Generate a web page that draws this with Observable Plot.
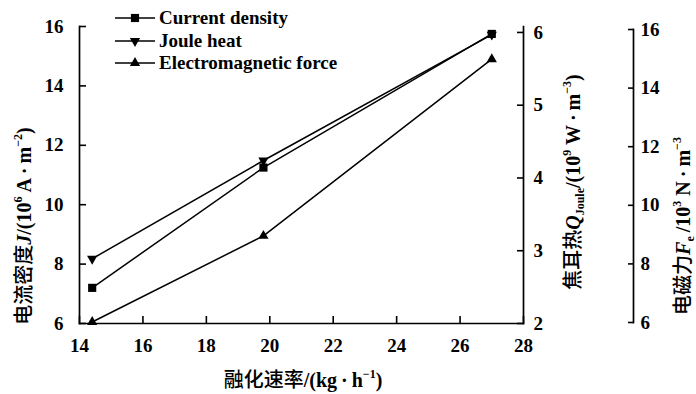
<!DOCTYPE html>
<html><head><meta charset="utf-8">
<script src="https://cdn.jsdelivr.net/npm/d3@7"></script>
<script src="https://cdn.jsdelivr.net/npm/@observablehq/plot@0.6"></script>
<style>
body{margin:0;background:#fff;}
#wrap{position:relative;width:696px;height:394px;font-family:"Liberation Serif","Times New Roman","DejaVu Serif",serif;color:#000;overflow:hidden;}
#wrap svg{position:absolute;top:0;overflow:visible;}
#wrap svg text{font-family:"Liberation Serif","Times New Roman","DejaVu Serif",serif;}
.t{position:absolute;white-space:nowrap;font-size:20px;font-weight:bold;line-height:1;}
.rot{transform:translate(-50%,-50%) rotate(-90deg);}
.hor{transform:translate(-50%,-50%);}
.cjk{font-family:"Noto Sans CJK SC";font-weight:500;}
sup,sub{font-size:0.6em;line-height:0;position:relative;vertical-align:baseline;}
sup{top:-0.75em;} sub{top:0.3em;}
.dot{margin:0 4px;}
#legend{position:absolute;left:114px;top:7px;font-size:19px;font-weight:bold;}
.row{display:flex;align-items:center;height:22.5px;}
.row svg{position:static !important;margin-right:3px;}
</style></head>
<body><div id="wrap"></div>
<script>
// ---- data ----
const meltRate = [14.4, 19.8, 27.0];
const currentDensity = [7.2, 11.25, 15.75];   // 10^6 A·m^-2 (left axis)
const jouleHeat = [2.89, 4.24, 5.97];         // 10^9 W·m^-3 (middle axis)
const emForce = [6.05, 8.95, 14.9];           // 10^3 N·m^-3 (far right axis)
const seriesNames = ["Current density", "Joule heat", "Electromagnetic force"];
const xTicks = [14, 16, 18, 20, 22, 24, 26, 28];
const jTicks = [6, 8, 10, 12, 14, 16];
const qTicks = [2, 3, 4, 5, 6];
const fTicks = [6, 8, 10, 12, 14, 16];

// map secondary axes onto the primary y scale
const qToJ = q => 6 + (q - 2) * 2.45;
const jToQ = j => (j - 6) / 2.45 + 2;
const fToJ = f => f;

const rows = [];
meltRate.forEach((x, i) => {
  rows.push({series: seriesNames[0], x, y: currentDensity[i]});
  rows.push({series: seriesNames[1], x, y: qToJ(jouleHeat[i])});
  rows.push({series: seriesNames[2], x, y: fToJ(emForce[i])});
});

const W = 696, H = 394;
const common = {fontSize: "19px", fontWeight: "bold", color: "#000", background: "transparent", overflow: "visible"};

const main = Plot.plot({
  width: W, height: H,
  marginLeft: 79, marginRight: 173, marginTop: 26, marginBottom: 71,
  style: common,
  x: {domain: [14, 28]},
  y: {domain: [6, 16]},
  marks: [
    Plot.frame({anchor: "left", strokeWidth: 1.7}),
    Plot.frame({anchor: "bottom", strokeWidth: 1.7}),
    Plot.frame({anchor: "right", strokeWidth: 1.7}),
    Plot.axisX(xTicks, {anchor: "bottom", tickSize: -7, tickPadding: 22, strokeWidth: 1.6, label: null}),
    Plot.axisY(jTicks, {anchor: "left", tickSize: -7, tickPadding: 23, strokeWidth: 1.6, label: null}),
    Plot.axisY(qTicks.map(qToJ), {anchor: "right", tickSize: -7, tickPadding: 17, strokeWidth: 1.6, label: null, tickFormat: d => Math.round(jToQ(d))}),
    Plot.line(rows, {x: "x", y: "y", z: "series", stroke: "#000", strokeWidth: 1.5}),
    Plot.dot(rows.filter(d => d.series === seriesNames[0]), {x: "x", y: "y", symbol: "square", r: 4.6, fill: "#000", stroke: "none"}),
    Plot.dot(rows.filter(d => d.series === seriesNames[1]), {x: "x", y: "y", symbol: "triangle", rotate: 180, r: 3.8, fill: "#000", stroke: "none"}),
    Plot.dot(rows.filter(d => d.series === seriesNames[2]), {x: "x", y: "y", symbol: "triangle", r: 3.8, fill: "#000", stroke: "none"})
  ]
});
main.style.left = "0px";

const side = Plot.plot({
  width: 64, height: H,
  marginLeft: 8, marginRight: 56, marginTop: 29, marginBottom: 72,
  style: common,
  y: {domain: [6, 16]},
  marks: [
    Plot.frame({anchor: "left", strokeWidth: 1.7}),
    Plot.axisY(fTicks, {anchor: "right", tickSize: -6, tickPadding: 13, strokeWidth: 1.6, label: null})
  ]
});
side.style.left = "625px";

const wrap = document.getElementById("wrap");
wrap.appendChild(main);
wrap.appendChild(side);

function addTitle(html, cx, cy, cls) {
  const d = document.createElement("div");
  d.className = "t " + cls;
  d.style.left = cx + "px"; d.style.top = cy + "px";
  d.innerHTML = html;
  wrap.appendChild(d);
}
addTitle('<span class="cjk">电流密度</span><i>J</i>/(10<sup>6</sup> A<span class="dot">·</span>m<sup>−2</sup>)', 23, 226, "rot");
addTitle('<span class="cjk">焦耳热</span><i>Q</i><sub>Joule</sub>/(10<sup>9</sup> W<span class="dot">·</span>m<sup>−3</sup>)', 572, 182, "rot");
addTitle('<span class="cjk">电磁力</span><i>F</i><sub>e</sub>&thinsp;/10<sup>3</sup> N<span class="dot">·</span>m<sup>−3</sup>', 682, 226, "rot");
addTitle('<span class="cjk">融化速率</span>/(kg<span class="dot">·</span>h<sup>−1</sup>)', 303, 379, "hor");

// legend
const leg = document.createElement("div");
leg.id = "legend";
const syms = [d3.symbolSquare, d3.symbolTriangle, d3.symbolTriangle];
const rots = [0, 180, 0];
const sizes = [Math.PI * 4.6 * 4.6, Math.PI * 3.8 * 3.8, Math.PI * 3.8 * 3.8];
seriesNames.forEach((name, i) => {
  const row = document.createElement("div");
  row.className = "row";
  const s = d3.create("svg").attr("width", 42).attr("height", 16);
  s.append("line").attr("x1", 1).attr("x2", 41).attr("y1", 8).attr("y2", 8).attr("stroke", "#000").attr("stroke-width", 1.5);
  s.append("path").attr("d", d3.symbol(syms[i], sizes[i])()).attr("transform", `translate(21,8) rotate(${rots[i]})`).attr("fill", "#000");
  row.appendChild(s.node());
  const t = document.createElement("span");
  t.textContent = name;
  row.appendChild(t);
  leg.appendChild(row);
});
wrap.appendChild(leg);
</script>
</body></html>
